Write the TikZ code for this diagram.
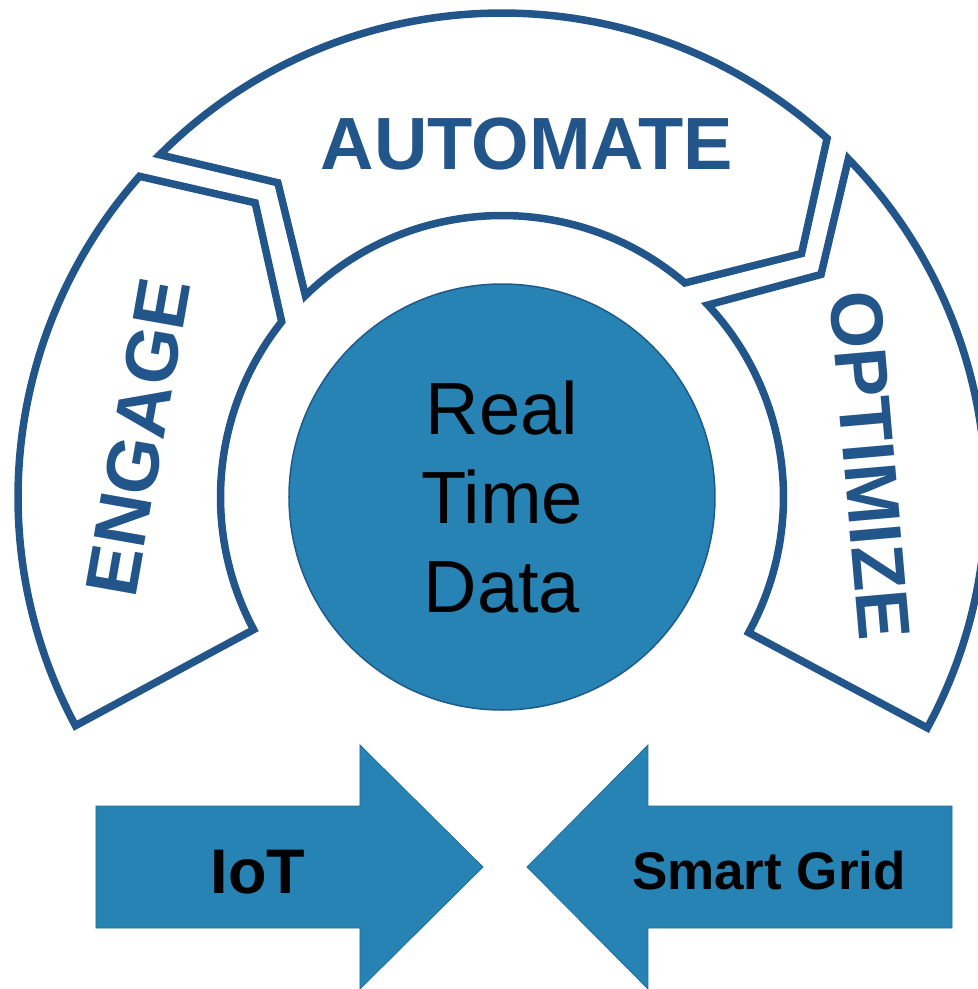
\documentclass[tikz,border=0pt]{standalone}
\usepackage{fontspec}
\setmainfont{Liberation Sans}
\definecolor{ringblue}{HTML}{22558A}
\definecolor{fillblue}{HTML}{2683B4}
\definecolor{rimblue}{HTML}{1F5A8A}
\begin{document}
\begin{tikzpicture}[x=1pt,y=1pt,
  seg/.style={draw=ringblue, line width=7.5pt, fill=white, line join=miter},
  segtext/.style={text=ringblue, font=\fontsize{74}{89}\selectfont\bfseries, inner sep=0pt},
  bigarrow/.style={fill=fillblue, draw=fillblue!85!black, line width=0.8pt},
  arrowtext/.style={text=black, inner sep=0pt, anchor=base}]
\useasboundingbox (-502,-492) rectangle (476,497);
\clip (-502,-492) rectangle (476,497);

% ENGAGE segment
\draw[seg] (208.2:484) arc[start angle=208.2, end angle=138.5, radius=484]
  -- (130:384) -- (141.5:281.5)
  arc[start angle=141.5, end angle=208.1, radius=281.5] -- cycle;
% AUTOMATE segment
\draw[seg] (135:484) arc[start angle=135, end angle=47.8, radius=484]
  -- (39.1:386) -- (49.5:281.5)
  arc[start angle=49.5, end angle=134.3, radius=281.5]
  -- (125.5:386) -- cycle;
% OPTIMIZE segment
\draw[seg] (44.3:484) arc[start angle=44.3, end angle=-28.5, radius=484]
  -- (-28.8:281.5)
  arc[start angle=-28.8, end angle=43, radius=281.5]
  -- (34.9:389) -- cycle;

\node[segtext, rotate=80] (engage) at (-364,60) {ENGAGE};
\node[segtext, anchor=base] (automate) at (25,327) {AUTOMATE};
\node[segtext, rotate=-85] (optimize) at (368,32) {OPTIMIZE};

% core circle
\node[circle, minimum size=426pt, inner sep=0pt, fill=fillblue, draw=rimblue,
  line width=1.5pt, align=center, font=\fontsize{74}{89}\selectfont]
  (core) at (0,0) {Real\\Time\\Data};

% arrows
\draw[bigarrow] (-406,-309) -- (-142,-309) -- (-142,-248) -- (-19,-370)
  -- (-142,-492) -- (-142,-431) -- (-406,-431) -- cycle;
\draw[bigarrow] (450,-309) -- (146,-309) -- (146,-248) -- (25,-370)
  -- (146,-492) -- (146,-431) -- (450,-431) -- cycle;

\node[arrowtext, font=\fontsize{63}{70}\selectfont\bfseries] (iot) at (-244,-396) {IoT};
\node[arrowtext, font=\fontsize{53}{60}\selectfont\bfseries] (grid) at (267,-392) {Smart Grid};
\end{tikzpicture}
\end{document}
